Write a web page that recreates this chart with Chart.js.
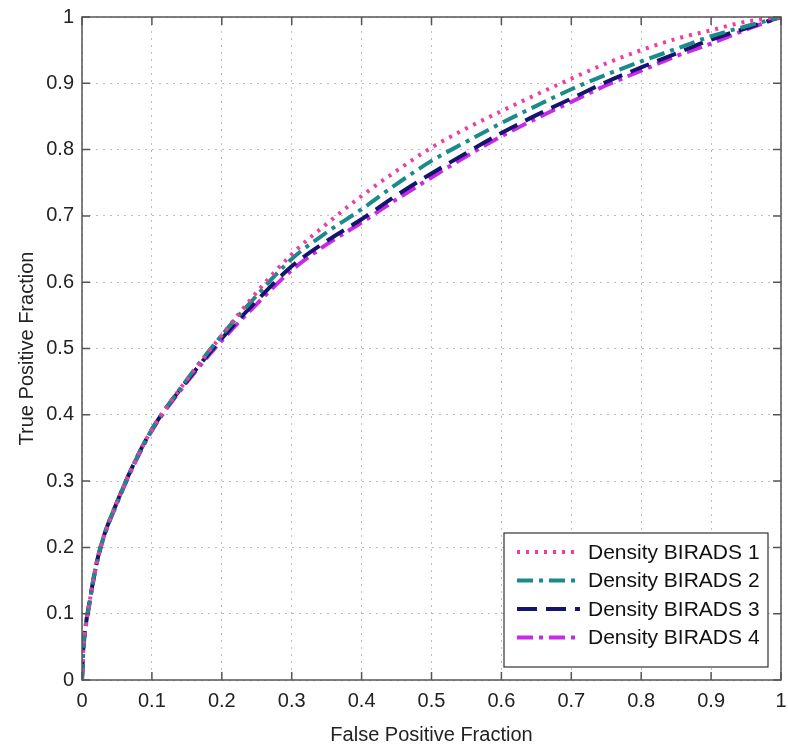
<!DOCTYPE html>
<html>
<head>
<meta charset="utf-8">
<script src="https://cdn.jsdelivr.net/npm/chart.js@4/dist/chart.umd.min.js"></script>
<style>
  html, body { margin: 0; padding: 0; background: #fff; }
  #wrap { width: 788px; height: 752px; }
</style>
</head>
<body>
<div id="wrap"><canvas id="roc" width="788" height="752"></canvas></div>
<script>
// False positive fraction sample points
const fpf = [0, 0.002, 0.005, 0.01, 0.02, 0.03, 0.05, 0.075, 0.1, 0.15, 0.2, 0.25, 0.3, 0.35,
  0.4, 0.45, 0.5, 0.55, 0.6, 0.65, 0.7, 0.75, 0.8, 0.85, 0.9, 0.95, 1];

// True positive fraction, one list per density class
const birads1 = [0, 0.05, 0.08, 0.113, 0.172, 0.213, 0.268, 0.328, 0.378, 0.453, 0.52, 0.585, 0.642, 0.688,
  0.73, 0.768, 0.803, 0.832, 0.858, 0.883, 0.907, 0.93, 0.95, 0.967, 0.98, 0.993, 1];
const birads2 = [0, 0.05, 0.08, 0.113, 0.172, 0.213, 0.268, 0.328, 0.378, 0.453, 0.52, 0.58, 0.635, 0.675,
  0.71, 0.748, 0.783, 0.812, 0.84, 0.866, 0.891, 0.913, 0.933, 0.952, 0.971, 0.986, 1];
const birads3 = [0, 0.05, 0.08, 0.113, 0.172, 0.213, 0.268, 0.328, 0.378, 0.451, 0.515, 0.572, 0.624, 0.662,
  0.695, 0.731, 0.764, 0.795, 0.825, 0.852, 0.877, 0.902, 0.924, 0.945, 0.966, 0.983, 1];
const birads4 = [0, 0.045, 0.077, 0.11, 0.17, 0.211, 0.266, 0.326, 0.376, 0.449, 0.512, 0.567, 0.618, 0.657,
  0.69, 0.725, 0.758, 0.79, 0.82, 0.847, 0.872, 0.897, 0.919, 0.941, 0.96, 0.981, 1];

const seriesNames = ['Density BIRADS 1', 'Density BIRADS 2', 'Density BIRADS 3', 'Density BIRADS 4'];
const axisTicks = [0, 0.1, 0.2, 0.3, 0.4, 0.5, 0.6, 0.7, 0.8, 0.9, 1];

const styles = [
  { color: '#f03ca0', dash: [3, 6] },
  { color: '#1a8a8a', dash: [16, 6, 4, 6] },
  { color: '#15156e', dash: [20, 9] },
  { color: '#c828ea', dash: [16, 6, 4, 6] }
];

const FONT = '"Liberation Sans", Arial, sans-serif';

function toPoints(ys) {
  return fpf.map((x, i) => ({ x, y: ys[i] }));
}

const tickLabel = v => String(Number(v.toFixed(1)));

// box round the axes with inward ticks, like the original figure
const framePlugin = {
  id: 'frame',
  afterDatasetsDraw(chart) {
    const { ctx, chartArea: a, scales } = chart;
    ctx.save();
    ctx.strokeStyle = '#555';
    ctx.lineWidth = 1.5;
    ctx.strokeRect(a.left, a.top, a.right - a.left, a.bottom - a.top);
    ctx.beginPath();
    axisTicks.forEach(t => {
      const px = scales.x.getPixelForValue(t);
      const py = scales.y.getPixelForValue(t);
      ctx.moveTo(px, a.bottom); ctx.lineTo(px, a.bottom - 8);
      ctx.moveTo(px, a.top); ctx.lineTo(px, a.top + 8);
      ctx.moveTo(a.left, py); ctx.lineTo(a.left + 8, py);
      ctx.moveTo(a.right, py); ctx.lineTo(a.right - 8, py);
    });
    ctx.stroke();

    // axis titles
    ctx.fillStyle = '#222';
    ctx.font = '20px ' + FONT;
    ctx.textAlign = 'center';
    ctx.textBaseline = 'middle';
    ctx.fillText('False Positive Fraction', (a.left + a.right) / 2, 735);
    ctx.translate(27, (a.top + a.bottom) / 2);
    ctx.rotate(-Math.PI / 2);
    ctx.fillText('True Positive Fraction', 0, 0);
    ctx.restore();
  }
};

// legend box in the lower right corner
const legendPlugin = {
  id: 'boxLegend',
  afterDraw(chart) {
    const { ctx } = chart;
    const left = 504, top = 533, w = 264, h = 134;
    ctx.save();
    ctx.fillStyle = '#fff';
    ctx.fillRect(left, top, w, h);
    ctx.strokeStyle = '#333';
    ctx.lineWidth = 1.2;
    ctx.strokeRect(left, top, w, h);
    chart.data.datasets.forEach((ds, i) => {
      const y = top + 19 + i * 28.5;
      ctx.strokeStyle = ds.borderColor;
      ctx.lineWidth = ds.borderWidth;
      ctx.setLineDash(ds.borderDash);
      ctx.beginPath();
      ctx.moveTo(517, y);
      ctx.lineTo(580, y);
      ctx.stroke();
      ctx.setLineDash([]);
      ctx.fillStyle = '#111';
      ctx.font = '21px ' + FONT;
      ctx.textAlign = 'left';
      ctx.textBaseline = 'middle';
      ctx.fillText(ds.label, 588, y + 1);
    });
    ctx.restore();
  }
};

new Chart(document.getElementById('roc'), {
  type: 'line',
  data: {
    datasets: [birads1, birads2, birads3, birads4].map((ys, i) => ({
      label: seriesNames[i],
      data: toPoints(ys),
      borderColor: styles[i].color,
      borderDash: styles[i].dash,
      borderWidth: 4,
      pointRadius: 0,
      cubicInterpolationMode: 'monotone',
      fill: false
    }))
  },
  options: {
    responsive: false,
    animation: false,
    layout: { padding: { top: 17, right: 7, left: 0, bottom: 0 } },
    plugins: { legend: { display: false }, tooltip: { enabled: false } },
    scales: {
      x: {
        type: 'linear',
        min: 0, max: 1,
        afterBuildTicks: s => { s.ticks = axisTicks.map(v => ({ value: v })); },
        afterFit: s => { s.height = 72; s.paddingLeft = 0; s.paddingRight = 0; },
        grid: { color: '#bdbdbd', lineWidth: 1, drawTicks: false },
        border: { display: false, dash: [2, 5] },
        ticks: { padding: 9, color: '#222', font: { family: FONT, size: 20 }, callback: tickLabel }
      },
      y: {
        type: 'linear',
        min: 0, max: 1,
        afterBuildTicks: s => { s.ticks = axisTicks.map(v => ({ value: v })); },
        afterFit: s => { s.width = 82; s.paddingTop = 0; s.paddingBottom = 0; },
        grid: { color: '#bdbdbd', lineWidth: 1, drawTicks: false },
        border: { display: false, dash: [2, 5] },
        ticks: { padding: 8, color: '#222', font: { family: FONT, size: 20 }, callback: tickLabel }
      }
    }
  },
  plugins: [framePlugin, legendPlugin]
});
</script>
</body>
</html>
